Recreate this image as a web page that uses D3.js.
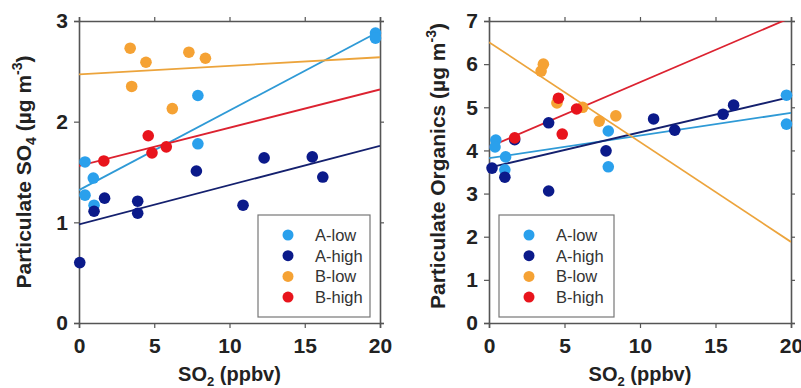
<!DOCTYPE html>
<html>
<head>
<meta charset="utf-8">
<script src="https://cdn.jsdelivr.net/npm/d3@7"></script>
<style>
  body { margin: 0; background: #fff; }
  svg text { font-family: "Liberation Sans", Arial, sans-serif; }
</style>
</head>
<body>
<script>
// Series
var seriesNames = ["A-low", "A-high", "B-low", "B-high"];
var pointColors = ["#2aa0ec", "#0b1a8a", "#f5a234", "#e8141c"];
var lineColors  = ["#2f9ad6", "#14206e", "#eca43c", "#dc2230"];

// SO4 panel, points [SO2, SO4]
var so4Alow  = [[0.4, 1.60], [0.4, 1.27], [0.95, 1.44], [1.0, 1.17], [7.9, 2.26], [7.9, 1.78], [19.7, 2.88], [19.7, 2.83]];
var so4Ahigh = [[0.05, 0.60], [1.0, 1.11], [1.7, 1.24], [3.9, 1.21], [3.9, 1.09], [7.8, 1.51], [10.9, 1.17], [12.3, 1.64], [15.5, 1.65], [16.2, 1.45]];
var so4Blow  = [[3.4, 2.73], [4.45, 2.59], [3.5, 2.35], [6.2, 2.13], [7.3, 2.69], [8.4, 2.63]];
var so4Bhigh = [[1.65, 1.61], [4.6, 1.86], [4.85, 1.69], [5.8, 1.75]];
// fit lines, value at SO2 = 0 and SO2 = 20
var so4FitStart = [1.32, 0.98, 2.47, 1.56];
var so4FitEnd   = [2.90, 1.76, 2.64, 2.32];

// Organics panel, points [SO2, Org]
var orgAlow  = [[0.45, 4.24], [0.4, 4.08], [1.1, 3.85], [1.05, 3.55], [7.9, 4.45], [7.9, 3.62], [19.7, 5.28], [19.7, 4.61]];
var orgAhigh = [[0.2, 3.59], [1.05, 3.38], [1.7, 4.25], [3.95, 4.64], [3.95, 3.06], [7.75, 3.99], [10.9, 4.73], [12.3, 4.47], [15.5, 4.84], [16.2, 5.05]];
var orgBlow  = [[3.6, 6.0], [3.45, 5.84], [4.5, 5.10], [6.2, 5.0], [7.3, 4.68], [8.4, 4.80]];
var orgBhigh = [[1.7, 4.29], [4.6, 5.21], [4.85, 4.38], [5.8, 4.96]];
var orgFitStart = [3.82, 3.60, 6.51, 4.08];
var orgFitEnd   = [4.87, 5.24, 1.88, 7.08];

var xTicks = [0, 5, 10, 15, 20];
var so4Ticks = [0, 1, 2, 3];
var orgTicks = [0, 1, 2, 3, 4, 5, 6, 7];

var width = 801, height = 388;

var svg = d3.select("body").append("svg")
  .attr("width", width)
  .attr("height", height);

/*
 * One scatter panel with fit lines, frame and legend.
 */
function drawPanel(cfg) {
  var x = d3.scaleLinear().domain([0, 20]).range([cfg.left, cfg.right]);
  var y = d3.scaleLinear().domain([0, cfg.yMax]).range([323, 21]);

  var g = svg.append("g");
  var axisColor = "#555";

  // axes, ticks pointing outward on all four sides
  var bottom = g.append("g").attr("transform", "translate(0," + y(0) + ")")
    .call(d3.axisBottom(x).tickValues(xTicks).tickSize(5).tickPadding(10).tickFormat(d3.format("d")));
  var top = g.append("g").attr("transform", "translate(0," + y(cfg.yMax) + ")")
    .call(d3.axisTop(x).tickValues(xTicks).tickSize(4).tickFormat(""));
  var left = g.append("g").attr("transform", "translate(" + x(0) + ",0)")
    .call(d3.axisLeft(y).tickValues(cfg.yTicks).tickSize(5).tickPadding(6).tickFormat(d3.format("d")));
  var right = g.append("g").attr("transform", "translate(" + x(20) + ",0)")
    .call(d3.axisRight(y).tickValues(cfg.yTicks).tickSize(4).tickFormat(""));

  [bottom, top, left, right].forEach(function(a) {
    a.select(".domain").attr("stroke", axisColor).attr("stroke-width", 1.6);
    a.selectAll(".tick line").attr("stroke", axisColor).attr("stroke-width", 1.2);
    a.selectAll("text").attr("fill", "#222").style("font-size", "21px").style("font-weight", "bold");
  });
  bottom.selectAll("text").attr("dy", "0.71em");

  // clip for fit lines
  var clipId = "clip" + cfg.id;
  g.append("clipPath").attr("id", clipId).append("rect")
    .attr("x", x(0)).attr("y", y(cfg.yMax))
    .attr("width", x(20) - x(0)).attr("height", y(0) - y(cfg.yMax));

  var line = d3.line().x(function(d) { return x(d[0]); }).y(function(d) { return y(d[1]); });

  g.append("g").attr("clip-path", "url(#" + clipId + ")")
    .selectAll("path")
    .data(seriesNames)
    .enter().append("path")
    .attr("d", function(d, i) { return line([[0, cfg.fitStart[i]], [20, cfg.fitEnd[i]]]); })
    .attr("fill", "none")
    .attr("stroke", function(d, i) { return lineColors[i]; })
    .attr("stroke-width", 1.8);

  // points, drawn series by series
  cfg.points.forEach(function(pts, i) {
    g.append("g").selectAll("circle")
      .data(pts)
      .enter().append("circle")
      .attr("cx", function(d) { return x(d[0]); })
      .attr("cy", function(d) { return y(d[1]); })
      .attr("r", 5.8)
      .attr("fill", pointColors[i]);
  });

  // legend
  var lg = g.append("g").attr("transform", "translate(" + cfg.legendX + ",215)");
  lg.append("rect")
    .attr("width", cfg.legendW).attr("height", 102)
    .attr("fill", "#fff").attr("stroke", "#777").attr("stroke-width", 1.2);
  var item = lg.selectAll(".item")
    .data(seriesNames)
    .enter().append("g")
    .attr("class", "item")
    .attr("transform", function(d, i) { return "translate(0," + (20 + i * 20.7) + ")"; });
  item.append("circle")
    .attr("cx", 30).attr("cy", 0).attr("r", 5.5)
    .attr("fill", function(d, i) { return pointColors[i]; });
  item.append("text")
    .attr("x", 57).attr("dy", "0.36em")
    .attr("fill", "#333")
    .style("font-size", "16.5px")
    .text(function(d) { return d; });

  // x title
  var xt = g.append("text")
    .attr("x", (x(0) + x(20)) / 2).attr("y", 381)
    .attr("text-anchor", "middle")
    .attr("fill", "#222")
    .style("font-size", "20px").style("font-weight", "bold");
  xt.append("tspan").text("SO");
  xt.append("tspan").attr("dy", 5).style("font-size", "13px").text("2");
  xt.append("tspan").attr("dy", -5).text(" (ppbv)");

  // y title
  var yt = g.append("text")
    .attr("transform", "translate(" + cfg.yTitleX + "," + cfg.yTitleY + ") rotate(-90)")
    .attr("text-anchor", "middle")
    .attr("fill", "#222")
    .style("font-size", "21px").style("font-weight", "bold");
  yt.append("tspan").text(cfg.yTitle);
  if (cfg.sub) {
    yt.append("tspan").attr("dy", 5).style("font-size", "14px").text(cfg.sub);
    yt.append("tspan").attr("dy", -5).text(" (\u00b5g m");
  } else {
    yt.append("tspan").text(" (\u00b5g m");
  }
  yt.append("tspan").attr("dy", -9).style("font-size", "14px").text("-3");
  yt.append("tspan").attr("dy", 9).text(")");
}

drawPanel({
  id: "so4", left: 79, right: 380, yMax: 3, yTicks: so4Ticks,
  points: [so4Alow, so4Ahigh, so4Blow, so4Bhigh],
  fitStart: so4FitStart, fitEnd: so4FitEnd,
  legendX: 258, legendW: 112,
  yTitle: "Particulate SO", sub: "4", yTitleX: 31, yTitleY: 172
});

drawPanel({
  id: "org", left: 489, right: 791, yMax: 7, yTicks: orgTicks,
  points: [orgAlow, orgAhigh, orgBlow, orgBhigh],
  fitStart: orgFitStart, fitEnd: orgFitEnd,
  legendX: 499, legendW: 115,
  yTitle: "Particulate Organics", sub: null, yTitleX: 445, yTitleY: 166
});
</script>
</body>
</html>
